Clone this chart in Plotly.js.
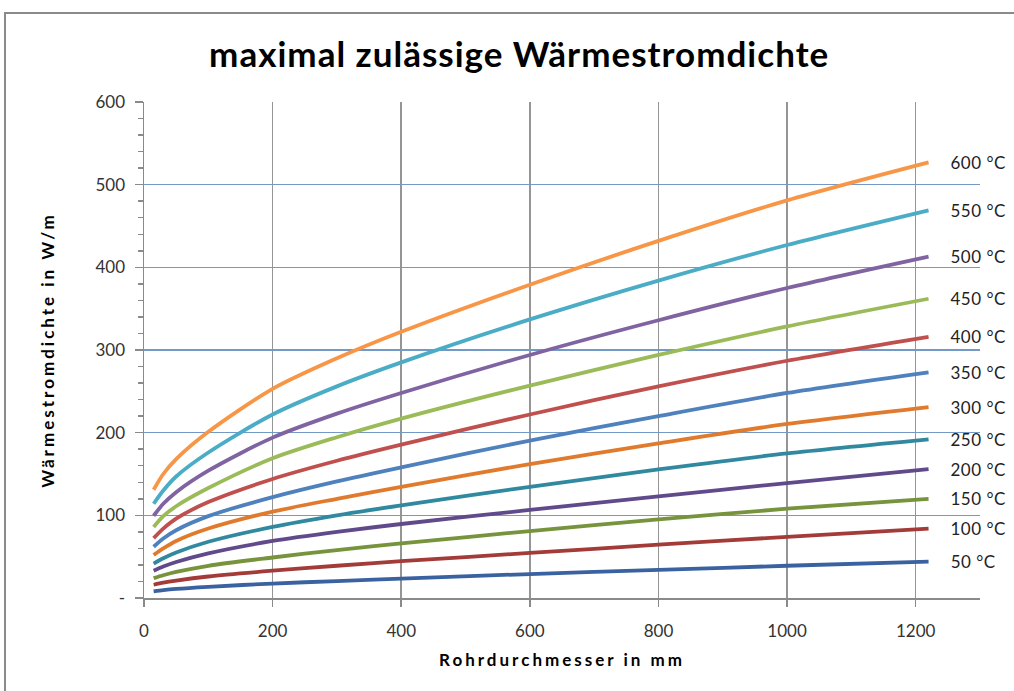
<!DOCTYPE html>
<html>
<head>
<meta charset="utf-8">
<script src="https://cdn.plot.ly/plotly-3.0.1.min.js"></script>
<style>
  html, body { margin: 0; padding: 0; background: #fff; }
  #chart { width: 1014px; height: 691px; }
  #frame { position: absolute; left: 4px; top: 12px; width: 1100px; height: 800px;
           border-left: 2px solid #8a8a8a; border-top: 2px solid #8a8a8a; pointer-events: none; }
  #chart .gtitle { letter-spacing: 1px; }
  #chart .xtitle { letter-spacing: 3px; }
  #chart .ytitle { letter-spacing: 3px; }
  #chart .annotation-text { letter-spacing: 0.5px; }
</style>
</head>
<body>
<div id="chart"></div>
<div id="frame"></div>
<script>
// Pipe diameter in mm
const diameters = [15, 30, 50, 100, 200, 300, 400, 600, 800, 1000, 1220];

// Series labels (temperatures)
const seriesNames = ["600 °C", "550 °C", "500 °C", "450 °C", "400 °C", "350 °C",
                     "300 °C", "250 °C", "200 °C", "150 °C", "100 °C", "50 °C"];

// Heat flux density in W/m
const q600 = [131, 150, 168, 201, 253, 290, 322, 379, 432, 481, 527];
const q550 = [114, 130, 147, 176, 222, 256, 285, 337, 384, 427, 469];
const q500 = [99.5, 114, 128, 154, 194, 223, 248, 294, 336, 375, 413];
const q450 = [86, 99, 111, 133, 169, 194.5, 217, 257, 294, 328.5, 362];
const q400 = [72.5, 84, 96, 116, 144, 166, 185.5, 222, 256, 287, 316];
const q350 = [62, 72, 82, 99, 122, 141, 158, 190.5, 220, 248, 273];
const q300 = [52, 60, 69, 84, 104.5, 120, 134.5, 162, 187, 210.5, 231];
const q250 = [41.5, 48, 55, 68, 86, 100, 112, 134.5, 155.5, 175, 192];
const q200 = [33, 38, 43.5, 54, 69, 80, 89.5, 106.5, 123, 139, 156];
const q150 = [24, 27.5, 31.5, 39, 49, 58, 66, 81, 95, 108, 120];
const q100 = [16, 18.5, 21, 26, 33, 39, 44.5, 54.5, 64.5, 74, 84];
const q50  = [8, 9.5, 11, 13.5, 17.5, 20.5, 23.5, 29, 34, 39, 44];

const yTickVals = [0, 100, 200, 300, 400, 500, 600];
const yTickText = ["-", "100", "200", "300", "400", "500", "600"];

const seriesData = [q600, q550, q500, q450, q400, q350, q300, q250, q200, q150, q100, q50];
const colors = ["#F79646", "#4BACC6", "#8064A2", "#9BBB59", "#C0504D", "#4F81BD",
                "#E07B2E", "#31899F", "#604A8B", "#77933C", "#A33B38", "#3A62A0"];

const traces = seriesData.map((ys, i) => ({
  x: diameters, y: ys, type: "scatter", mode: "lines",
  name: seriesNames[i], line: { color: colors[i], width: 3.8, shape: "spline", smoothing: 0.8 },
  showlegend: false, hoverinfo: "x+y+name"
}));

const annotations = seriesData.map((ys, i) => ({
  x: 1253, y: ys[ys.length - 1], xref: "x", yref: "y",
  text: seriesNames[i], showarrow: false, xanchor: "left", yanchor: "middle",
  font: { family: "Lato, 'Liberation Sans', sans-serif", size: 17, color: "#222" }
}));

const layout = {
  width: 1014, height: 691,
  margin: { l: 144, r: 34, t: 102, b: 93 },
  paper_bgcolor: "#fff", plot_bgcolor: "#fff",
  font: { family: "Lato, 'Liberation Sans', sans-serif", color: "#333" },
  title: {
    text: "maximal zulässige Wärmestromdichte",
    font: { family: "Lato, sans-serif", size: 35, color: "#000", weight: "bold" },
    x: 0.512, xanchor: "center", xref: "container",
    y: 0.921, yanchor: "middle", yref: "container"
  },
  xaxis: {
    range: [0, 1300], tickmode: "linear", tick0: 0, dtick: 200,
    showgrid: true, gridcolor: "#959595", gridwidth: 1.5,
    showline: true, linecolor: "#8a8a8a", linewidth: 1.5,
    ticks: "outside", ticklen: 7, tickcolor: "#8a8a8a", tickwidth: 1.5,
    ticklabelstandoff: 10,
    zeroline: false,
    tickfont: { size: 17, color: "#333" },
    title: { text: "Rohrdurchmesser in mm", font: { size: 17, color: "#000", weight: "bold" }, standoff: 14 }
  },
  yaxis: {
    range: [0, 600], tickmode: "array", tickvals: yTickVals, ticktext: yTickText,
    showgrid: true, gridcolor: "#7399C6", gridwidth: 1.2,
    showline: true, linecolor: "#8a8a8a", linewidth: 1.5,
    ticks: "outside", ticklen: 8, tickcolor: "#8a8a8a", tickwidth: 1.5,
    ticklabelstandoff: 6,
    minor: { dtick: 20, tick0: 0, ticks: "outside", ticklen: 5, tickcolor: "#8a8a8a", showgrid: false },
    zeroline: false,
    tickfont: { size: 17, color: "#333" },
    title: { text: "Wärmestromdichte in W/m", font: { size: 17, color: "#000", weight: "bold" }, standoff: 36 }
  },
  annotations: annotations
};

Plotly.newPlot("chart", traces, layout, { displayModeBar: false, staticPlot: true });
</script>
</body>
</html>
